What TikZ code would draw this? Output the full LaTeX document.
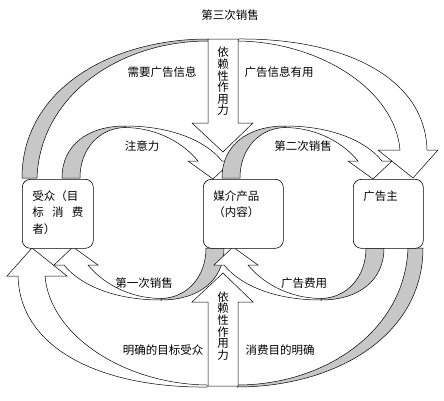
\documentclass[tikz,border=0pt]{standalone}
\usepackage{fontspec}
\setmainfont{Noto Sans CJK SC}
\usetikzlibrary{positioning,calc}

\tikzset{
  box/.style={draw, fill=white, rounded corners=8pt, anchor=north west,
    text width=51pt, inner xsep=10pt, inner ysep=11pt,
    text height=10pt, text depth=37pt, align=left, line width=0.6pt},
  back/.style={draw, fill=black!22, line width=0.5pt},
  front/.style={draw, fill=white, line width=0.5pt},
  vtext/.style={align=center, inner sep=0pt, font=\fontsize{11.5}{11.6}\selectfont},
}

\begin{document}
\begin{tikzpicture}[x=1pt, y=-1pt, font=\fontsize{11.5}{16.5}\selectfont]
    \useasboundingbox (0,0) rectangle (444,400);

    % big arcs, top one and the same turned round
    \foreach \r in {0,180}
    {
        \begin{scope}[rotate around={\r:(222.5,213)}]
            \draw [back] (22,178) .. controls (22,90) and (110,39) .. (208,39)
                -- (208,41) .. controls (120,41) and (40,95) .. (37,178) -- cycle;
            \draw [front] (238,39) .. controls (340,38) and (425,75) .. (427,150)
                -- (438,150) -- (413,178) -- (378,150) -- (400,150)
                .. controls (395,90) and (320,42) .. (238,41) -- cycle;
        \end{scope}
    }

    % small arcs
    \foreach \s in {0,160}
        \foreach \r in {0,180}
        {
            \begin{scope}[xshift=\s, rotate around={\r:(143,213)}]
                \draw [back] (62,178) .. controls (62,145) and (88,126) .. (125,126)
                    -- (125,127.5) .. controls (100,128) and (80,148) .. (80,178) -- cycle;
                \draw [front] (125,126) .. controls (170,126) and (205,140) .. (222,161)
                    -- (232,161) -- (213,179) -- (188,161) -- (198,161)
                    .. controls (185,145) and (160,128) .. (125,127.5) -- cycle;
            \end{scope}
        }

    % block arrows
    \draw [front] (208,39) -- (238,39) -- (238,123) -- (253,123) -- (223,152)
        -- (192,123) -- (208,123) -- cycle;
    \draw [front] (208,386) -- (238,386) -- (238,302) -- (253,302) -- (223,273)
        -- (192,302) -- (208,302) -- cycle;

    \node [box] (aud) at (22,179) {受众（目\\标\hfill 消\hfill 费\\者）};
    \node [box, text width=60pt] (media) at (203,179) {媒介产品\\（内容）};
    \node [box, text width=50pt] (adv) at (353,179) {广告主};

    \node [vtext] (dep1) at (223,81.5) {依\\赖\\性\\作\\用\\力};
    \node [vtext] (dep2) at (223,326) {依\\赖\\性\\作\\用\\力};

    \node (sale3) at (230,15) {第三次销售};
    \node (need) at (162,72) {需要广告信息};
    \node (useful) at (279,72) {广告信息有用};
    \node (attn) at (142,146) {注意力};
    \node (sale2) at (303,146) {第二次销售};
    \node (sale1) at (144,283) {第一次销售};
    \node (fee) at (304,283) {广告费用};
    \node (target) at (163,350) {明确的目标受众};
    \node (purpose) at (280,350) {消费目的明确};
\end{tikzpicture}
\end{document}
